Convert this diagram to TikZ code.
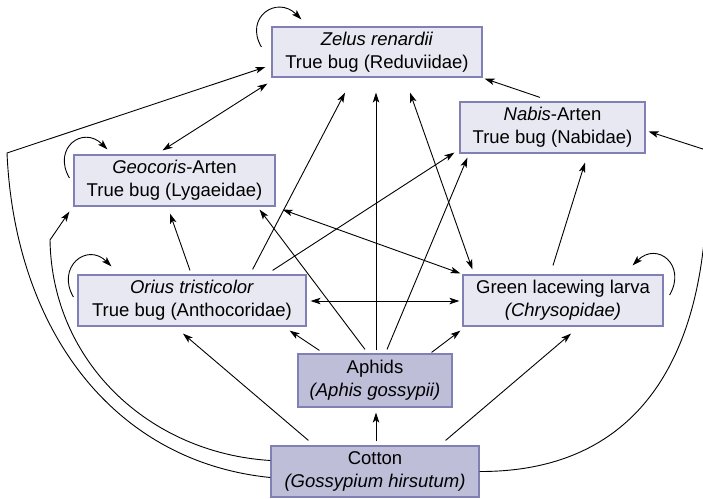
\documentclass[tikz,border=0pt]{standalone}
\usepackage{fontspec}
\setmainfont{Liberation Sans}
\usetikzlibrary{arrows.meta,positioning}
\definecolor{boxlt}{RGB}{232,232,242}
\definecolor{boxdk}{RGB}{190,190,216}
\definecolor{boxln}{RGB}{128,128,180}

\begin{document}
\begin{tikzpicture}[x=1pt,y=-1pt,font=\fontsize{18.5}{23}\selectfont,
  >={Stealth[length=10pt,width=6.5pt,inset=2.5pt]},
  box/.style={draw=boxln,line width=1.2pt,align=center,inner sep=0pt},
  lt/.style={box,fill=boxlt},dk/.style={box,fill=boxdk},
  ar/.style={->,line width=0.9pt},br/.style={<->,line width=0.9pt}]
\useasboundingbox (0,0) rectangle (703,498);
\node[lt,minimum width=210pt,minimum height=50pt] (zelus) at (377,52) {\textit{Zelus renardii}\\ True bug (Reduviidae)};
\node[lt,minimum width=185pt,minimum height=51pt] (nabis) at (552.5,127.5) {\textit{Nabis}-Arten\\ True bug (Nabidae)};
\node[lt,minimum width=201pt,minimum height=51pt] (geo) at (174.5,180.5) {\textit{Geocoris}-Arten\\ True bug (Lygaeidae)};
\node[lt,minimum width=228pt,minimum height=51pt] (orius) at (192,300.5) {\textit{Orius tristicolor}\\ True bug (Anthocoridae)};
\node[lt,minimum width=200pt,minimum height=51pt] (lace) at (563,300.5) {Green lacewing larva\\ \textit{(Chrysopidae)}};
\node[dk,minimum width=154pt,minimum height=53pt] (aphid) at (375,380.5) {Aphids\\ \textit{(Aphis gossypii)}};
\node[dk,minimum width=208pt,minimum height=51pt] (cotton) at (375,471.5) {Cotton\\ \textit{(Gossypium hirsutum)}};
\coordinate (kz) at (7,153);
\coordinate (kg) at (50,240);
\coordinate (kn) at (706,150);
% self loops
\draw[ar] ([shift={(-10,-5)}]zelus.west) .. controls (244,17) and (277,-5) .. ([shift={(30,-7)}]zelus.north west);
\draw[ar] ([shift={(-4,-2.5)}]geo.west) .. controls (52,148) and (83,125) .. ([shift={(34,-5)}]geo.north west);
\draw[ar] ([shift={(-4,-3.5)}]orius.west) .. controls (56,267) and (87,242) .. ([shift={(34,-8)}]orius.north west);
\draw[ar] ([shift={(6,-5.5)}]lace.east) .. controls (687,265) and (657,241) .. ([shift={(-31,-9)}]lace.north east);
% long curves from cotton
\draw[ar] ([shift={(0,6)}]cotton.west) .. controls (115,462) and (15,332) .. (kz) -- ([shift={(-6,15)}]zelus.west);
\draw[ar] ([shift={(0,-11)}]cotton.west) .. controls (149,453) and (52,362) .. (kg) -- ([shift={(-4,5)}]geo.south west);
\draw[ar] (cotton.east) .. controls (650,472) and (715,340) .. (kn) -- ([shift={(3,4)}]nabis.east);
% straight links
\draw[ar] ([shift={(1,-4)}]cotton.north) -- ([shift={(1,5)}]aphid.south);
\draw[ar] ([shift={(38,-5)}]cotton.north west) -- ([shift={(-9,7)}]orius.south);
\draw[ar] ([shift={(-34,-5)}]cotton.north east) -- ([shift={(8,7)}]lace.south);
\draw[ar] ([shift={(22,-3)}]aphid.north west) -- ([shift={(-17,4)}]orius.south east);
\draw[ar] ([shift={(-21,-1)}]aphid.north east) -- ([shift={(-2,4)}]lace.south west);
\draw[ar] ([shift={(-10,-4)}]aphid.north) -- ([shift={(-16,3)}]geo.south east);
\draw[ar] ([shift={(12,-4)}]aphid.north) -- ([shift={(8,4)}]nabis.south west);
\draw[ar] ([shift={(1,-3)}]aphid.north) -- ([shift={(-1,15)}]zelus.south);
\draw[ar] ([shift={(-2,-4)}]orius.north) -- ([shift={(-4.5,7)}]geo.south);
\draw[ar] ([shift={(-54,-5)}]orius.north east) -- ([shift={(-32,15)}]zelus.south);
\draw[ar] ([shift={(-34,-4)}]orius.north east) -- ([shift={(-5,-1)}]nabis.south west);
\draw[br] ([shift={(4,0.5)}]orius.east) -- ([shift={(-3,0.5)}]lace.west);
\draw[br] ([shift={(7,3)}]geo.south east) -- ([shift={(-2,-1)}]lace.north west);
\draw[br] ([shift={(-12,-4)}]geo.north) -- ([shift={(-4,6)}]zelus.south west);
\draw[br] ([shift={(33,15)}]zelus.south) -- ([shift={(10,-5)}]lace.north west);
\draw[ar] ([shift={(-10,-9)}]lace.north) -- ([shift={(32.5,9)}]nabis.south);
\draw[ar] ([shift={(-12.5,-4)}]nabis.north) -- ([shift={(2,1)}]zelus.south east);
\end{tikzpicture}
\end{document}
